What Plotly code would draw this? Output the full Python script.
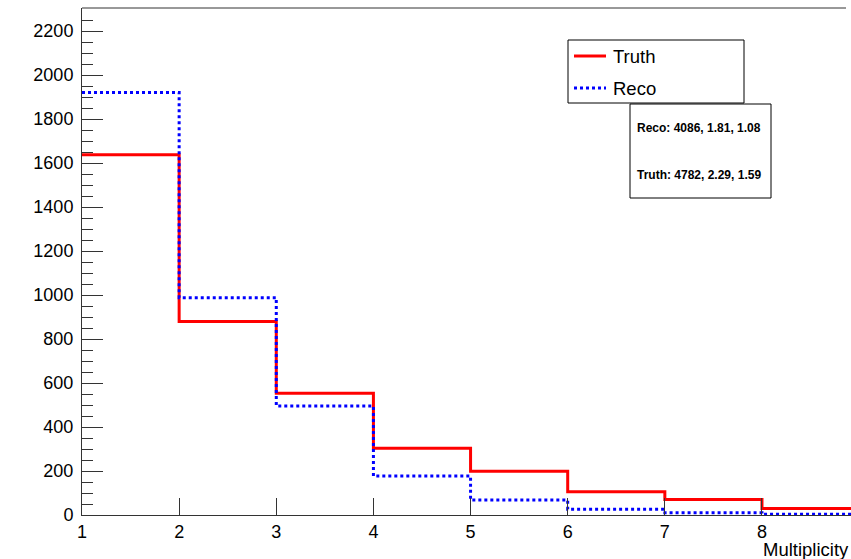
import plotly.graph_objects as go

# Multiplicity histograms: bin low edges 1..8 (last edge 9)
bin_edges = [1, 2, 3, 4, 5, 6, 7, 8, 9]
truth_counts = [1638, 879, 553, 303, 199, 106, 71, 30]
reco_counts = [1921, 988, 495, 177, 68, 26, 10, 3]

x_ticks = [1, 2, 3, 4, 5, 6, 7, 8]
stats_lines = ["Reco: 4086, 1.81, 1.08", "Truth: 4782, 2.29, 1.59"]

W, H = 851, 559
L, R, T, B = 82, 0, 8, 44
PW, PH = W - L - R, H - T - B
FONT = "Liberation Sans, Arial, Helvetica, sans-serif"


def px(x):
    return (x - L) / PW


def py(y):
    return (T + PH - y) / PH


def step_xy(edges, counts):
    # repeat last value so the 'hv' step closes at the upper edge
    return edges, list(counts) + [counts[-1]]


fig = go.Figure()

tx, ty = step_xy(bin_edges, truth_counts)
fig.add_trace(go.Scatter(x=tx, y=ty, mode="lines", line_shape="hv",
                         line=dict(color="#ff0000", width=3), name="Truth",
                         showlegend=False))
rx, ry = step_xy(bin_edges, reco_counts)
fig.add_trace(go.Scatter(x=rx, y=ry, mode="lines", line_shape="hv",
                         line=dict(color="#0000ff", width=3, dash="3px,3px"),
                         name="Reco", showlegend=False))

shapes = []
annotations = []

# top frame line
shapes.append(dict(type="line", xref="paper", yref="paper",
                   x0=0, x1=px(846), y0=1, y1=1,
                   line=dict(color="#333333", width=1)))

# legend box
shapes.append(dict(type="rect", xref="paper", yref="paper",
                   x0=px(568), x1=px(744), y0=py(103), y1=py(40),
                   line=dict(color="black", width=1), fillcolor="white"))
shapes.append(dict(type="line", xref="paper", yref="paper",
                   x0=px(574), x1=px(606), y0=py(56), y1=py(56),
                   line=dict(color="#ff0000", width=3)))
shapes.append(dict(type="line", xref="paper", yref="paper",
                   x0=px(574), x1=px(606), y0=py(88), y1=py(88),
                   line=dict(color="#0000ff", width=3, dash="3px,3px")))
annotations.append(dict(text="Truth", xref="paper", yref="paper",
                        x=px(611), y=py(56), xanchor="left", yanchor="middle",
                        showarrow=False, font=dict(size=18.5, color="black", family=FONT)))
annotations.append(dict(text="Reco", xref="paper", yref="paper",
                        x=px(611), y=py(88), xanchor="left", yanchor="middle",
                        showarrow=False, font=dict(size=18.5, color="black", family=FONT)))

# statistics box
shapes.append(dict(type="rect", xref="paper", yref="paper",
                   x0=px(630), x1=px(771), y0=py(198), y1=py(104),
                   line=dict(color="black", width=1), fillcolor="white"))
for text, yy in zip(stats_lines, [128, 175]):
    annotations.append(dict(text="<b>%s</b>" % text, xref="paper", yref="paper",
                            x=px(699), y=py(yy), xanchor="center", yanchor="middle",
                            showarrow=False, font=dict(size=12, color="black", family=FONT)))

# x-axis title, running off the right edge of the canvas
annotations.append(dict(text="Multiplicity", xref="paper", yref="paper",
                        x=px(761), y=py(549), xanchor="left", yanchor="middle",
                        showarrow=False, font=dict(size=18.5, color="black", family=FONT)))

fig.update_layout(
    width=W, height=H,
    margin=dict(l=L, r=R, t=T, b=B, pad=0),
    paper_bgcolor="white", plot_bgcolor="white",
    font=dict(family=FONT, color="black"),
    shapes=shapes, annotations=annotations,
    showlegend=False,
    xaxis=dict(range=[1, 1 + PW / 97.14], tickmode="array", tickvals=x_ticks,
               ticktext=[str(v) for v in x_ticks],
               ticks="inside", ticklen=17, tickwidth=1, tickcolor="#333333",
               showline=True, linecolor="#333333", linewidth=1,
               showgrid=False, zeroline=False,
               tickfont=dict(size=18, family=FONT, color="black")),
    yaxis=dict(range=[0, PH / 0.22], tick0=0, dtick=200,
               ticks="inside", ticklen=21, tickwidth=1, tickcolor="#333333",
               minor=dict(ticks="inside", ticklen=11, dtick=50, tickcolor="#333333",
                          showgrid=False),
               showline=True, linecolor="#333333", linewidth=1,
               showgrid=False, zeroline=False, ticklabelstandoff=4,
               tickfont=dict(size=18, family=FONT, color="black")),
)

fig.write_html("out.html")
